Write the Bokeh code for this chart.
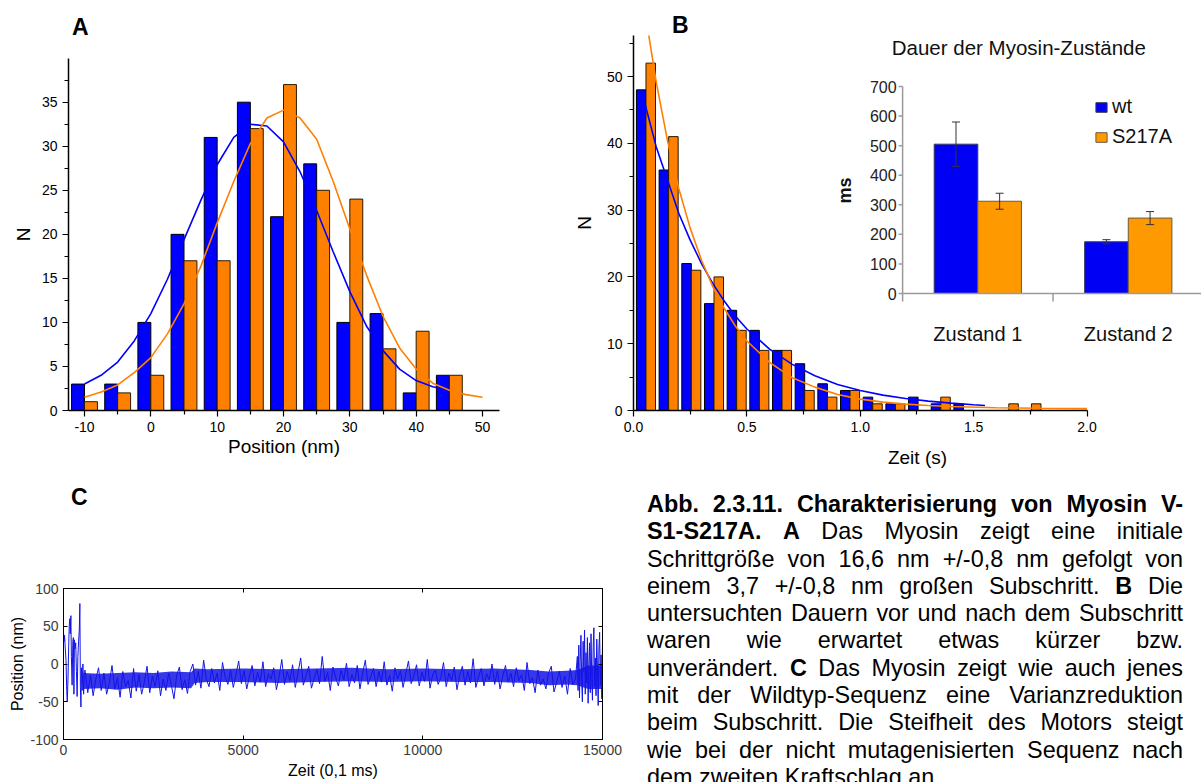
from bokeh.plotting import figure
from bokeh.models import (Range1d, FixedTicker, Legend, LegendItem, Whisker,
                          ColumnDataSource, Div, LinearAxis, NumeralTickFormatter, TeeHead,
                          PrintfTickFormatter)
from bokeh.layouts import row, column
from bokeh.transform import dodge
from bokeh.core.properties import value
from bokeh.embed import file_html
from bokeh.resources import INLINE

FONT = "Liberation Sans"
BLUE = "#0000ff"
ORANGE = "#ff8000"

# ---------------- data: panel A (step size histogram) ----------------
a_pos = [-10, -5, 0, 5, 10, 15, 20, 25, 30, 35, 40, 45]
a_wt = [3, 3, 10, 20, 31, 35, 22, 28, 10, 11, 2, 4]
a_s217a = [1, 2, 4, 17, 17, 32, 37, 25, 24, 7, 9, 4]
a_fit_wt_x = [-10, -7.5, -5, -2.5, 0, 2.5, 5, 7.5, 10, 12.5, 15, 17.5, 20, 22.5, 25,
              27.5, 30, 32.5, 35, 37.5, 40, 42.5, 45]
a_fit_wt_y = [3.0, 4.0, 5.5, 7.9, 11.0, 14.9, 19.4, 23.8, 27.9, 31.0, 32.5, 32.3, 30.5,
              27.1, 22.7, 18.0, 13.5, 9.6, 6.8, 4.7, 3.4, 2.7, 2.3]
a_fit_s_x = [-10, -7.5, -5, -2.5, 0, 2.5, 5, 7.5, 10, 12.5, 15, 17.5, 20, 22.5, 25,
             27.5, 30, 32.5, 35, 37.5, 40, 42.5, 45, 47.5, 50]
a_fit_s_y = [1.5, 2.1, 2.9, 4.3, 6.0, 8.7, 12.1, 16.3, 21.3, 26.0, 30.3, 33.2, 34.1,
             33.2, 30.8, 26.0, 20.6, 15.4, 10.7, 7.1, 4.7, 3.1, 2.3, 1.8, 1.5]
a_xticks = [-10, 0, 10, 20, 30, 40, 50]
a_xminor = [-5, 5, 15, 25, 35, 45]
a_yticks = [0, 5, 10, 15, 20, 25, 30, 35]
a_yminor = [2.5, 7.5, 12.5, 17.5, 22.5, 27.5, 32.5, 37.5]

# ---------------- data: panel B (dwell time histogram) ----------------
b_time = [0.05, 0.15, 0.25, 0.35, 0.45, 0.55, 0.65, 0.75, 0.85, 0.95, 1.05, 1.15,
          1.25, 1.35, 1.45, 1.55, 1.65, 1.75]
b_wt = [48, 36, 22, 16, 15, 12, 9, 7, 4, 3, 2, 1, 2, 1, 1, 0, 0, 0]
b_s217a = [52, 41, 21, 20, 12, 9, 9, 3, 2, 3, 1, 1, 0, 2, 0, 0, 1, 1]
b_fit_wt_x = [0.05, 0.1, 0.15, 0.2, 0.25, 0.3, 0.35, 0.4, 0.45, 0.5, 0.6, 0.7, 0.8,
              0.9, 1.0, 1.1, 1.2, 1.3, 1.4, 1.5, 1.55]
b_fit_wt_y = [46, 39.5, 34.5, 29.5, 25.5, 22, 19, 16.4, 14.1, 12.2, 9.2, 6.9, 5.2,
              3.9, 3.0, 2.3, 1.8, 1.4, 1.1, 0.85, 0.75]
b_fit_s_x = [0.05, 0.1, 0.15, 0.2, 0.25, 0.3, 0.35, 0.4, 0.45, 0.5, 0.6, 0.7, 0.8,
             0.9, 1.0, 1.1, 1.2, 1.3, 1.4, 1.6, 1.8, 2.0]
b_fit_s_y = [59.9, 49.2, 40.4, 33.2, 27.3, 22.5, 18.5, 15.3, 12.6, 10.4, 7.2, 4.9, 3.5,
             2.4, 1.7, 1.25, 0.95, 0.75, 0.6, 0.42, 0.33, 0.28]
b_xticks = [0, 0.5, 1.0, 1.5, 2.0]
b_xminor = [0.25, 0.75, 1.25, 1.75]
b_yticks = [0, 10, 20, 30, 40, 50]
b_yminor = [5, 15, 25, 35, 45, 55]

# ---------------- data: inset (Dauer der Myosin-Zustaende) ----------------
ins_states = ["Zustand 1", "Zustand 2"]
ins_wt = [505, 175]
ins_wt_err = [75, 7]
ins_s217a = [312, 255]
ins_s217a_err = [27, 22]
ins_yticks = [0, 100, 200, 300, 400, 500, 600, 700]

# ---------------- data: panel C (position trace) ----------------
c_t_early = [0, 15, 30, 50, 70, 90, 105, 125, 145, 160, 175, 190, 205, 220, 240, 260,
             275, 290, 305, 320, 340, 360, 380, 400, 420, 440, 455, 470, 485, 500, 520,
             540, 560, 580]
c_y_early = [42, 30, 38, 20, 5, -35, -50, -20, 25, 50, 60, 40, 64, 10, -28, 30, 35, -40,
             32, 20, 28, -10, -43, 10, 30, 45, 80, -30, -57, -5, -35, 0, -40, -10]
c_y_seg1 = [-8, -38, -15, -42, -20, -5, -35, -12, -40, -25, -2, -33, -18, -44, -10, -30,
            -22, -45, -6, -36, -14, -40, -24, -3, -38, -16, -30, -9, -42, -20, -35, -12,
            -28, -46, -15, -4, -34, -21, -39, -10]
c_y_seg2 = [0, -28, -10, -32, 5, -20, -30, -6, -25, -12, -35, 2, -18, -27, -8, -31, -14, 4, -26,
            -9, -33, -16, -2, -29, -11, -24, 3, -30, -13, -20, -5, -34, -17, 6, -27, -10, -22, -1, -31,
            -12, 8, -28, -15, -3, -32, -19, -7, -26, 10, -23, -11, -35, -4, -18, -29, -8, -21, 1, -30,
            -14, -25, -2, -33, -12, 5, -27, -17, -6, -30, -10, -24, 3, -28, -15, -36, -5, -20, -9, -31,
            -13, 4, -26, -16, -1, -29, -11, -23, 6, -32, -14, -8, -27, -18, 2, -30, -12, -22, -4, -34,
            -15, -3, -28, -10, -25, 7, -31, -17, -6, -29, -13, -21, 0, -27, -9, -33, -16, -2, -24, -12,
            -30, -5, -22, -14, -35, 2, -26, -18, -38, -8, -28, -20, -33, -12, -3, -37, -24, -10, -31,
            -16, -40, -6, -27, -19]
c_y_seg3 = [10, -35, 25, -45, 5, 38, -20, -50, 30, -10, 45, -40, 15, -25, 35, -52, 0, 28,
            -38, 40, -15, -48, 22, 48, -30, 8, -42, 33, -5, -55, 20, 42, -28, 12, -46, 30]
c_t_seg1 = list(range(600, 3600, 75))
c_t_seg2 = list(range(3600, 14300, 75))
c_t_seg3 = list(range(14300, 15001, 20))
# dense core of the noise band (envelope)
c_band_t = [550, 1000, 1500, 2000, 2500, 3000, 3550, 3650, 4000, 5000, 6000, 7000, 8000,
            9000, 10000, 11000, 12000, 13000, 13500, 14000, 14300, 14600, 15000]
c_band_lo = [-33, -32, -34, -31, -32, -31, -32, -25, -24, -24, -25, -24, -23, -24, -23,
             -24, -24, -25, -28, -27, -28, -33, -33]
c_band_hi = [-12, -13, -12, -11, -12, -10, -11, -6, -7, -6, -7, -6, -5, -7, -6, -7, -6,
             -8, -10, -9, -8, -2, -2]
c_xticks = [0, 5000, 10000, 15000]
c_yticks = [-100, -50, 0, 50, 100]

caption_lines = [
    "<b>Abb. 2.3.11. Charakterisierung von Myosin V-</b>",
    "<b>S1-S217A.</b> <b>A</b> Das Myosin zeigt eine initiale",
    "Schrittgröße von 16,6 nm +/-0,8 nm gefolgt von",
    "einem 3,7 +/-0,8 nm großen Subschritt. <b>B</b> Die",
    "untersuchten Dauern vor und nach dem Subschritt",
    "waren wie erwartet etwas kürzer bzw.",
    "unverändert. <b>C</b> Das Myosin zeigt wie auch jenes",
    "mit der Wildtyp-Sequenz eine Varianzreduktion",
    "beim Subschritt. Die Steifheit des Motors steigt",
    "wie bei der nicht mutagenisierten Sequenz nach",
    "dem zweiten Kraftschlag an.",
]

# ---------------- layout constants (pixels) ----------------
W, H = 1201, 782
H_TOP = 475
H_BOT = H - H_TOP


def origin_style(p, xt, xm, yt, ym):
    p.grid.visible = False
    p.outline_line_color = None
    p.xaxis.ticker = FixedTicker(ticks=xt, minor_ticks=xm)
    p.yaxis.ticker = FixedTicker(ticks=yt, minor_ticks=ym)
    for ax in (p.below[0], p.left[0]):
        ax.axis_line_width = 1.5
        ax.axis_line_color = "black"
        ax.major_tick_line_width = 1.2
        ax.minor_tick_line_width = 1.2
        ax.major_tick_out = 6
        ax.major_tick_in = 0
        ax.minor_tick_out = 4
        ax.minor_tick_in = 0
        ax.major_label_text_font = FONT
        ax.major_label_text_font_size = "14px"
        ax.major_label_text_color = "black"
        ax.major_label_standoff = 5
        ax.axis_label_text_font = FONT
        ax.axis_label_text_font_size = "19px"
        ax.axis_label_text_font_style = "normal"
        ax.axis_label_text_color = "black"


def letter_div(txt, w, h, left, center_y):
    html = ('<div style="font-family:\'Liberation Sans\',Arial,sans-serif;font-weight:bold;'
            'font-size:23px;line-height:23px;padding-left:%dpx;padding-top:%dpx;">%s</div>'
            % (left, center_y - 11, txt))
    return Div(text=html, width=w, height=h, margin=0)


# ================= Panel A =================
A_W = 570
A_FL, A_FR, A_FT, A_FB = 68, 499, 58, 410      # absolute px of the frame
a_ppx = (482 - 84) / 60.0           # px per nm (-10 -> 84 px, 50 -> 482 px)
a_ppy = (410 - 101.7) / 35.0        # px per count
pa = figure(width=A_W, height=H_TOP - A_FT, output_backend="svg", toolbar_location=None,
            x_range=Range1d(-10 - (84 - A_FL) / a_ppx, 50 + (A_FR - 482) / a_ppx),
            y_range=Range1d(0, (A_FB - A_FT) / a_ppy),
            min_border_left=A_FL, min_border_right=A_W - A_FR,
            min_border_top=0, min_border_bottom=H_TOP - A_FB,
            x_axis_label="Position (nm)", y_axis_label="N")
origin_style(pa, a_xticks, a_xminor, a_yticks, a_yminor)
pa.xaxis.formatter = PrintfTickFormatter(format="%d")
pa.xaxis.axis_label_standoff = 1
pa.yaxis.axis_label_standoff = 5
srcA = ColumnDataSource(dict(x=a_pos, wt=a_wt, s=a_s217a))
pa.vbar(x=dodge("x", -0.975), top="wt", width=1.95, source=srcA,
        fill_color=BLUE, line_color="black", line_width=1)
pa.vbar(x=dodge("x", 0.975), top="s", width=1.95, source=srcA,
        fill_color=ORANGE, line_color="#2a1a00", line_width=1)
pa.line(a_fit_wt_x, a_fit_wt_y, line_color=BLUE, line_width=1.6)
pa.line(a_fit_s_x, a_fit_s_y, line_color=ORANGE, line_width=1.6)
div_a = letter_div("A", A_W, A_FT, 72, 27)

# ================= Panel B =================
B_X = 570
B_W = W - B_X
B_FL, B_FT, B_FB = 629, 35, 410          # absolute px of the frame
B_FR = W
b_ppx = (1085.7 - B_FL) / 2.0
b_ppy = (410 - 76) / 50.0
pb = figure(width=B_W, height=H_TOP - B_FT, output_backend="svg", toolbar_location=None,
            x_range=Range1d(0, (B_FR - B_FL) / b_ppx),
            y_range=Range1d(0, (B_FB - B_FT) / b_ppy),
            min_border_left=B_FL - B_X, min_border_right=0,
            min_border_top=0, min_border_bottom=H_TOP - B_FB,
            x_axis_label="Zeit (s)", y_axis_label="N")
origin_style(pb, b_xticks, b_xminor, b_yticks, b_yminor)
pb.xaxis.bounds = (0, 2.0)
pb.xaxis.formatter = NumeralTickFormatter(format="0.0")
pb.xaxis.axis_label_standoff = 12
pb.yaxis.axis_label_standoff = 9
srcB = ColumnDataSource(dict(t=b_time, wt=b_wt, s=b_s217a))
pb.vbar(x=dodge("t", -0.016), top="wt", width=0.042, source=srcB,
        fill_color=BLUE, line_color="black", line_width=1)
pb.vbar(x=dodge("t", 0.026), top="s", width=0.042, source=srcB,
        fill_color=ORANGE, line_color="#2a1a00", line_width=1)
pb.line(b_fit_wt_x, b_fit_wt_y, line_color=BLUE, line_width=1.6)
pb.line(b_fit_s_x, b_fit_s_y, line_color=ORANGE, line_width=1.6)
div_b = letter_div("B", B_W, B_FT, 672 - B_X, 25)

# ---- inset drawn on extra ranges inside panel B ----
IN_AX_PX = 900.0        # absolute px of inset value axis
IN_PPX = 151.5          # px per category
IN_Y0_PX, IN_Y700_PX = 293.0, 86.0
in_ppy = (IN_Y0_PX - IN_Y700_PX) / 700.0
pb.extra_x_ranges = {"ix": Range1d((B_FL - IN_AX_PX) / IN_PPX, (B_FR - IN_AX_PX) / IN_PPX)}
pb.extra_y_ranges = {"iy": Range1d(-(B_FB - IN_Y0_PX) / in_ppy, (IN_Y0_PX - B_FT) / in_ppy)}
INS = dict(x_range_name="ix", y_range_name="iy")
AXC = "#9a9a9a"
n_cat = len(ins_states)
centers = [i + 0.5 for i in range(n_cat)]
BW = 0.29
ins_src = ColumnDataSource(dict(
    xw=[c - BW / 2 for c in centers], xs=[c + BW / 2 for c in centers],
    wt=ins_wt, s=ins_s217a,
    wt_hi=[v + e for v, e in zip(ins_wt, ins_wt_err)], wt_lo=[v - e for v, e in zip(ins_wt, ins_wt_err)],
    s_hi=[v + e for v, e in zip(ins_s217a, ins_s217a_err)], s_lo=[v - e for v, e in zip(ins_s217a, ins_s217a_err)],
))
r_wt = pb.vbar(x="xw", top="wt", width=BW, source=ins_src, fill_color="#0000f4",
               line_color="#3c3c5a", line_width=1, **INS)
r_s = pb.vbar(x="xs", top="s", width=BW, source=ins_src, fill_color="#ff9900",
              line_color="#6a5a40", line_width=1, **INS)
for base, hi, lo in (("xw", "wt_hi", "wt_lo"), ("xs", "s_hi", "s_lo")):
    pb.add_layout(Whisker(source=ins_src, base=base, upper=hi, lower=lo, level="overlay",
                          line_color="#333333", line_width=1,
                          upper_head=TeeHead(size=8, line_color="#333333", line_width=1),
                          lower_head=TeeHead(size=8, line_color="#333333", line_width=1),
                          **INS))
# value axis
pb.segment(x0=[0], y0=[0], x1=[0], y1=[ins_yticks[-1]], line_color=AXC, line_width=1.5, **INS)
pb.segment(x0=[-4 / IN_PPX] * len(ins_yticks), y0=ins_yticks, x1=[0] * len(ins_yticks),
           y1=ins_yticks, line_color=AXC, line_width=1.5, **INS)
pb.text(x=[0] * len(ins_yticks), y=ins_yticks, text=[str(v) for v in ins_yticks],
        x_offset=-6, text_align="right", text_baseline="middle", text_font=value(FONT),
        text_font_size="16px", text_color="#222222", **INS)
# category axis
pb.segment(x0=[0], y0=[0], x1=[n_cat], y1=[0], line_color=AXC, line_width=1.5, **INS)
cat_edges = list(range(n_cat + 1))
pb.segment(x0=cat_edges, y0=[0] * len(cat_edges), x1=cat_edges,
           y1=[-8 / in_ppy] * len(cat_edges), line_color=AXC, line_width=1.5, **INS)
pb.text(x=centers, y=[0] * n_cat, text=ins_states, y_offset=40, text_align="center",
        text_baseline="middle", text_font=value(FONT), text_font_size="20px",
        text_color="#111111", **INS)
pb.text(x=[(1017 - IN_AX_PX) / IN_PPX], y=[ins_yticks[-1]], text=["Dauer der Myosin-Zustände"],
        y_offset=-39, text_align="center", text_baseline="middle", text_font=value(FONT),
        text_font_size="20.5px", text_color="#111111", **INS)
pb.text(x=[(842 - IN_AX_PX) / IN_PPX], y=[(IN_Y0_PX - 190) / in_ppy], text=["ms"],
        angle=1.5708, text_align="center", text_baseline="middle", text_font=value(FONT),
        text_font_size="18px", text_font_style="bold", text_color="#111111", **INS)
leg = Legend(items=[LegendItem(label="wt", renderers=[r_wt]),
                    LegendItem(label="S217A", renderers=[r_s])],
             location=(1090 - B_FL, B_FB - 148), padding=0, margin=0, spacing=7,
             glyph_width=14, glyph_height=12, label_height=22, label_standoff=4,
             label_text_font=FONT, label_text_font_size="20px", label_text_color="#111111",
             background_fill_alpha=0, border_line_color=None)
pb.add_layout(leg)

# ================= Panel C =================
C_W = 647
C_LETTER_H = 40
C_FL, C_FR, C_FT, C_FB = 63, 602, 588, 739     # absolute px of the frame
c_time = c_t_early + c_t_seg1 + c_t_seg2 + c_t_seg3
c_pos = c_y_early + c_y_seg1 + c_y_seg2 + c_y_seg3
n = min(len(c_time), len(c_pos))
pc = figure(width=C_W, height=H_BOT - C_LETTER_H, output_backend="svg", toolbar_location=None,
            x_range=Range1d(0, 15000), y_range=Range1d(-100, 100),
            min_border_left=C_FL, min_border_right=C_W - C_FR,
            min_border_top=C_FT - H_TOP - C_LETTER_H, min_border_bottom=H - C_FB,
            x_axis_label="Zeit (0,1 ms)", y_axis_label="Position (nm)")
pc.grid.visible = False
pc.outline_line_color = "black"
pc.outline_line_width = 1
TRACE = "#1414e6"
pc.varea(x=c_band_t, y1=c_band_lo, y2=c_band_hi, fill_color=TRACE, fill_alpha=0.85)
pc.line(c_time[:n], c_pos[:n], line_color=TRACE, line_width=1)
bottom_ax = pc.below[0]
left_ax = pc.left[0]
bottom_ax.ticker = FixedTicker(ticks=c_xticks)
left_ax.ticker = FixedTicker(ticks=c_yticks)
bottom_ax.formatter = PrintfTickFormatter(format="%d")
left_ax.formatter = PrintfTickFormatter(format="%d")
top_ax = LinearAxis(ticker=FixedTicker(ticks=c_xticks))
right_ax = LinearAxis(ticker=FixedTicker(ticks=c_yticks))
pc.add_layout(top_ax, "above")
pc.add_layout(right_ax, "right")
for ax in (bottom_ax, left_ax, top_ax, right_ax):
    ax.axis_line_color = "black"
    ax.axis_line_width = 1
    ax.major_tick_in = 4
    ax.major_tick_out = 0
    ax.major_tick_line_color = "black"
    ax.minor_tick_line_color = None
    ax.major_label_text_font = FONT
    ax.major_label_text_font_size = "14px"
    ax.major_label_text_color = "#3a3a3a"
    ax.major_label_standoff = 5
    ax.axis_label_text_font = FONT
    ax.axis_label_text_font_size = "16px"
    ax.axis_label_text_font_style = "normal"
    ax.axis_label_text_color = "black"
for ax in (top_ax, right_ax):
    ax.major_label_text_color = None
    ax.major_label_text_font_size = "0px"
    ax.major_label_standoff = 0
bottom_ax.axis_label_standoff = 4
left_ax.axis_label_standoff = 1
div_c = letter_div("C", C_W, C_LETTER_H, 71, 497 - H_TOP)

# ================= Caption =================
CAP_W = W - C_W
body = "".join(
    '<div style="text-align:justify;text-align-last:justify;white-space:nowrap;">%s</div>' % ln
    for ln in caption_lines[:-1])
body += '<div style="text-align:left;white-space:nowrap;">%s</div>' % caption_lines[-1]
html = ('<div style="font-family:\'Liberation Sans\',Arial,sans-serif;font-size:23.4px;'
        'line-height:27.3px;color:#000;width:536px;padding-top:%dpx;">%s</div>') % (491 - H_TOP, body)
caption = Div(text=html, width=CAP_W, height=H_BOT, margin=0, styles={"overflow": "hidden"})

layout = column(row(column(div_a, pa), column(div_b, pb)),
                row(column(div_c, pc), caption))
open("out.html", "w").write(file_html(layout, INLINE))
